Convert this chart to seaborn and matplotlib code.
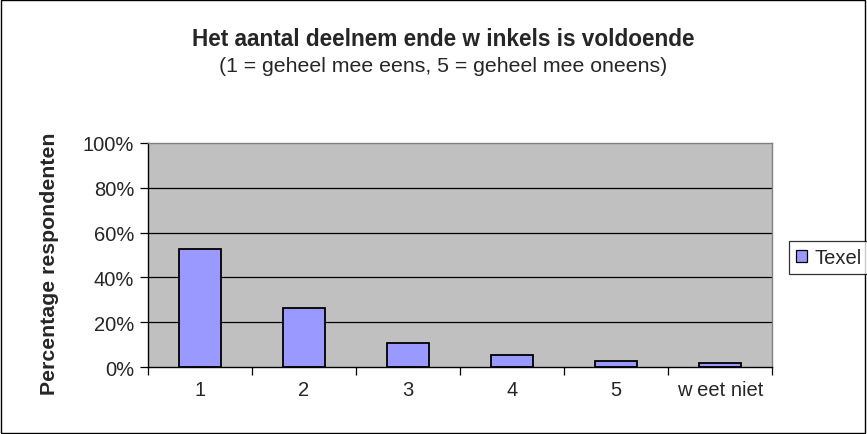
import numpy as np
import pandas as pd
import seaborn as sns
import matplotlib.pyplot as plt
from matplotlib.patches import Rectangle, Patch
from matplotlib.ticker import PercentFormatter, FixedLocator

categories = ["1", "2", "3", "4", "5", "w eet niet"]
texel = [52.8, 26.4, 10.9, 5.5, 2.7, 1.7]
series_name = "Texel"
yticks = [0, 20, 40, 60, 80, 100]

title = "Het aantal deelnem ende w inkels is voldoende"
subtitle = "(1 = geheel mee eens, 5 = geheel mee oneens)"
ylabel = "Percentage respondenten"

sns.set_style("white")
plt.rcParams['font.family'] = ['Liberation Sans', 'DejaVu Sans']

df = pd.DataFrame({"categorie": categories, "waarde": texel})

fig = plt.figure(figsize=(8.67, 4.35), dpi=100)
ax = fig.add_axes([0.1707, 0.154, 0.7197, 0.515])

sns.barplot(data=df, x="categorie", y="waarde", color="#9999FF",
            edgecolor="black", linewidth=1.3, width=0.4, saturation=1, ax=ax)

ax.set_facecolor("#C0C0C0")
ax.set_ylim(0, 100)
ax.set_xlim(-0.5, len(categories) - 0.5)
ax.yaxis.set_major_locator(FixedLocator(yticks))
ax.yaxis.set_major_formatter(PercentFormatter(decimals=0))
for y in yticks[1:-1]:
    ax.axhline(y, color="black", linewidth=0.9, zorder=0.5)

ax.set_xticks(np.arange(len(categories)))
ax.set_xticklabels(categories)
ax.set_xticks(np.arange(len(categories) + 1) - 0.5, minor=True)
ax.tick_params(axis="x", which="major", length=0, pad=9, labelsize=14.5)
ax.tick_params(axis="x", which="minor", direction="out", length=6,
               width=0.9, color="black", bottom=True)
ax.tick_params(axis="y", direction="out", length=6, width=0.9,
               color="black", left=True, labelsize=14.5, pad=4)

ax.set_xlabel("")
ax.set_ylabel(ylabel, fontsize=15.3, fontweight="bold")
ax.yaxis.set_label_coords(-0.142, 0.465)

for side in ["top", "right"]:
    ax.spines[side].set_color("#808080")
    ax.spines[side].set_linewidth(1.0)
for side in ["left", "bottom"]:
    ax.spines[side].set_color("black")
    ax.spines[side].set_linewidth(1.0)

fig.text(0.511, 0.895, title, ha="center", va="baseline", fontsize=16.3,
         fontweight="bold")
fig.text(0.511, 0.835, subtitle, ha="center", va="baseline", fontsize=15.3)

handle = Patch(facecolor="#9999FF", edgecolor="black", linewidth=0.9)
leg = fig.legend([handle], [series_name], loc="center left",
                 bbox_to_anchor=(0.910, 0.406), borderaxespad=0,
                 frameon=True, fancybox=False, fontsize=14.5,
                 handlelength=0.55, handleheight=0.55,
                 handletextpad=0.35, borderpad=0.35)
leg.get_frame().set_edgecolor("black")
leg.get_frame().set_linewidth(0.9)

fig.patches.append(Rectangle((0.001, 0.002), 0.997, 0.996,
                             transform=fig.transFigure, fill=False,
                             edgecolor="black", linewidth=1.0))

plt.savefig("out.png", dpi=100)
plt.close()
